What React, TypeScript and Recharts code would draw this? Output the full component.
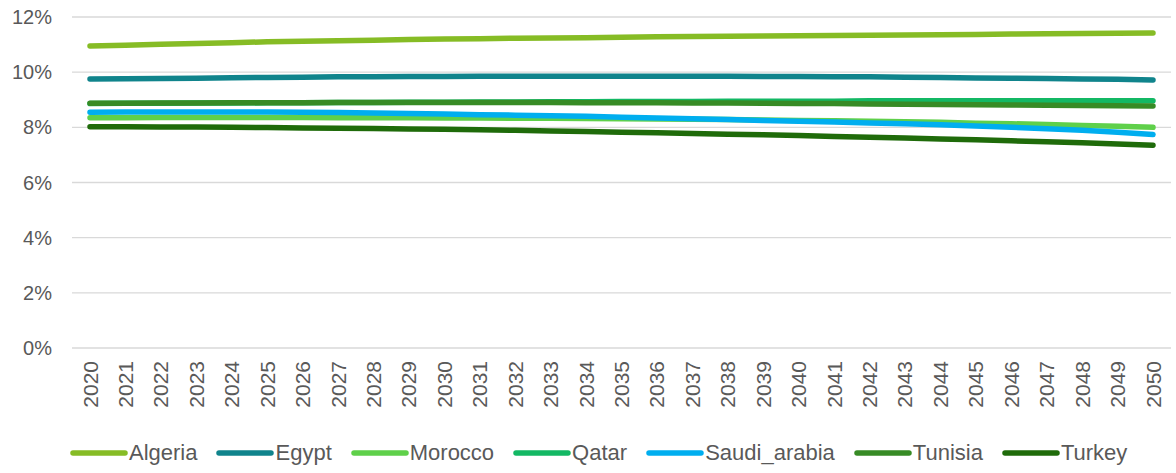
import React from 'react';
import { LineChart, Line, XAxis, YAxis, CartesianGrid, Legend } from 'recharts';

const years = [
  '2020', '2021', '2022', '2023', '2024', '2025', '2026', '2027', '2028', '2029', '2030',
  '2031', '2032', '2033', '2034', '2035', '2036', '2037', '2038', '2039', '2040',
  '2041', '2042', '2043', '2044', '2045', '2046', '2047', '2048', '2049', '2050',
];

const algeria = [10.95, 10.98, 11.01, 11.04, 11.07, 11.10, 11.12, 11.14, 11.16, 11.18, 11.20, 11.21, 11.23, 11.24, 11.25, 11.27, 11.28, 11.29, 11.30, 11.31, 11.32, 11.33, 11.34, 11.35, 11.36, 11.37, 11.38, 11.39, 11.40, 11.41, 11.42];
const egypt = [9.75, 9.76, 9.77, 9.78, 9.80, 9.81, 9.82, 9.83, 9.83, 9.84, 9.84, 9.85, 9.85, 9.85, 9.85, 9.85, 9.85, 9.85, 9.85, 9.84, 9.84, 9.83, 9.83, 9.82, 9.81, 9.79, 9.78, 9.77, 9.75, 9.74, 9.72];
const morocco = [8.35, 8.35, 8.36, 8.36, 8.36, 8.36, 8.36, 8.35, 8.35, 8.35, 8.34, 8.34, 8.33, 8.33, 8.32, 8.31, 8.30, 8.29, 8.28, 8.27, 8.25, 8.24, 8.22, 8.20, 8.18, 8.15, 8.13, 8.10, 8.07, 8.04, 8.00];
const qatar = [8.86, 8.87, 8.87, 8.88, 8.88, 8.89, 8.89, 8.90, 8.90, 8.91, 8.91, 8.92, 8.92, 8.93, 8.93, 8.94, 8.94, 8.94, 8.95, 8.95, 8.95, 8.95, 8.96, 8.96, 8.96, 8.96, 8.96, 8.96, 8.96, 8.96, 8.96];
const saudiArabia = [8.55, 8.56, 8.56, 8.56, 8.56, 8.56, 8.55, 8.54, 8.52, 8.50, 8.48, 8.46, 8.44, 8.42, 8.40, 8.37, 8.34, 8.31, 8.28, 8.25, 8.22, 8.19, 8.16, 8.13, 8.09, 8.05, 8.00, 7.95, 7.89, 7.82, 7.74];
const tunisia = [8.87, 8.87, 8.88, 8.88, 8.89, 8.89, 8.89, 8.90, 8.90, 8.90, 8.90, 8.90, 8.90, 8.90, 8.89, 8.89, 8.89, 8.88, 8.88, 8.87, 8.86, 8.86, 8.85, 8.84, 8.83, 8.82, 8.81, 8.80, 8.79, 8.78, 8.77];
const turkey = [8.02, 8.02, 8.01, 8.01, 8.00, 7.99, 7.98, 7.97, 7.96, 7.94, 7.93, 7.91, 7.89, 7.87, 7.85, 7.82, 7.80, 7.78, 7.75, 7.73, 7.70, 7.67, 7.64, 7.61, 7.58, 7.55, 7.51, 7.48, 7.44, 7.40, 7.35];

const yTicks = [0, 2, 4, 6, 8, 10, 12];

const series = [
  { key: 'Algeria', values: algeria, color: '#86bc25' },
  { key: 'Egypt', values: egypt, color: '#10848c' },
  { key: 'Morocco', values: morocco, color: '#5fd04a' },
  { key: 'Qatar', values: qatar, color: '#13b864' },
  { key: 'Saudi_arabia', values: saudiArabia, color: '#00aeef' },
  { key: 'Tunisia', values: tunisia, color: '#378b25' },
  { key: 'Turkey', values: turkey, color: '#1f6b0a' },
];

const data = years.map((year, i) => {
  const row: Record<string, string | number> = { year };
  series.forEach(s => { row[s.key] = s.values[i]; });
  return row;
});

const FONT = '"Liberation Sans", Arial, sans-serif';
const TEXT = '#595959';

const YearTick = (props: any) => {
  const { x, y, payload } = props;
  const ty = y + 5;
  return (
    <text x={x} y={ty} transform={`rotate(-90 ${x} ${ty})`} textAnchor="end" dominantBaseline="central"
      fill={TEXT} fontSize={21} fontFamily={FONT}>
      {payload.value}
    </text>
  );
};

const renderLegend = () => (
  <div style={{ display: 'flex', alignItems: 'center', fontFamily: FONT, fontSize: 22, color: TEXT }}>
    {series.map(s => (
      <div key={s.key} style={{ display: 'flex', alignItems: 'center', marginRight: 19 }}>
        <svg width={58} height={10}>
          <line x1={3} y1={5} x2={55} y2={5} stroke={s.color} strokeWidth={5.5} strokeLinecap="round" />
        </svg>
        <span style={{ marginLeft: 1 }}>{s.key}</span>
      </div>
    ))}
  </div>
);

const App: React.FC = () => {
  return (
    <div style={{ position: 'absolute', left: 0, top: 0, background: '#fff' }}>
      <LineChart width={1176} height={473} data={data} margin={{ top: 17, right: 5, left: 12, bottom: 0 }}>
        <CartesianGrid vertical={false} stroke="#d9d9d9" strokeWidth={1.3} />
        <XAxis dataKey="year" interval={0} tickLine={false} axisLine={false} height={99}
          padding={{ left: 18, right: 18 }} tick={<YearTick />} />
        <YAxis domain={[0, 12]} ticks={yTicks} tickLine={false} axisLine={false} width={60} tickMargin={14}
          tickFormatter={(v: number) => `${v}%`}
          tick={{ fill: TEXT, fontSize: 20, fontFamily: FONT }} />
        <Legend content={renderLegend} wrapperStyle={{ left: 70, top: 440, width: 'auto' }} />
        {series.map(s => (
          <Line key={s.key} type="linear" dataKey={s.key} stroke={s.color} strokeWidth={5.5}
            strokeLinecap="round" dot={false} activeDot={false} isAnimationActive={false} />
        ))}
      </LineChart>
    </div>
  );
};

export default App;
